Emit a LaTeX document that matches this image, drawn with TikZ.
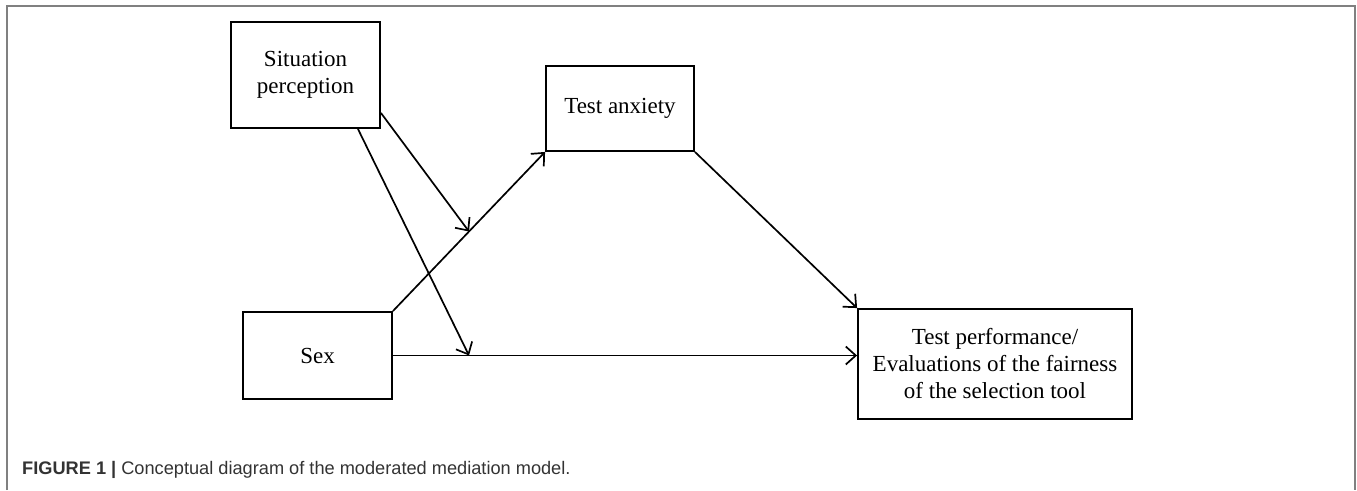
\documentclass[tikz,border=0pt]{standalone}
\usepackage{fontspec}
\setmainfont{Liberation Serif}
\setsansfont{Liberation Sans}
\usetikzlibrary{arrows.meta}
\definecolor{framegray}{HTML}{808080}
\definecolor{captiongray}{HTML}{333333}
\begin{document}
\begin{tikzpicture}[x=1pt,y=-1pt,
  box/.style={draw, line width=1.9pt, inner sep=0pt, align=center, font=\fontsize{23}{27}\selectfont},
  link/.style={line width=1.7pt, -{Straight Barb[length=10pt,width=18pt,line width=1.7pt]}}]
\useasboundingbox (0,0) rectangle (1357,490);
\draw[framegray, line width=2pt] (7,490) -- (7,6) -- (1355,6) -- (1355,490);
\node[box, minimum width=149pt, minimum height=106pt] (sit) at (305.5,75) {Situation\\perception};
\node[box, minimum width=148pt, minimum height=85pt] (anx) at (620,108.5) {Test anxiety};
\node[box, minimum width=149pt, minimum height=87pt] (sex) at (317.5,355.5) {Sex};
\node[box, minimum width=274pt, minimum height=110pt] (out) at (995,364) {Test performance/\\Evaluations of the fairness\\of the selection tool};
\draw[link] (sex.north east) -- (anx.south west) node[pos=0.5, coordinate] (mid) {};
\draw[link] (sex.east) -- (sex.east -| out.west);
\coordinate (hit) at (mid |- sex.east);
\draw[link] ([yshift=16pt]sit.south east) -- (mid);
\draw[link] ([xshift=-23pt]sit.south east) -- (hit);
\draw[link] (anx.south east) -- (out.north west);
\node[anchor=base west, font=\sffamily\fontsize{18.2}{20}\selectfont, text=captiongray, inner sep=0pt] (cap) at (22,474) {\textbf{FIGURE 1 |} Conceptual diagram of the moderated mediation model.};
\end{tikzpicture}
\end{document}
